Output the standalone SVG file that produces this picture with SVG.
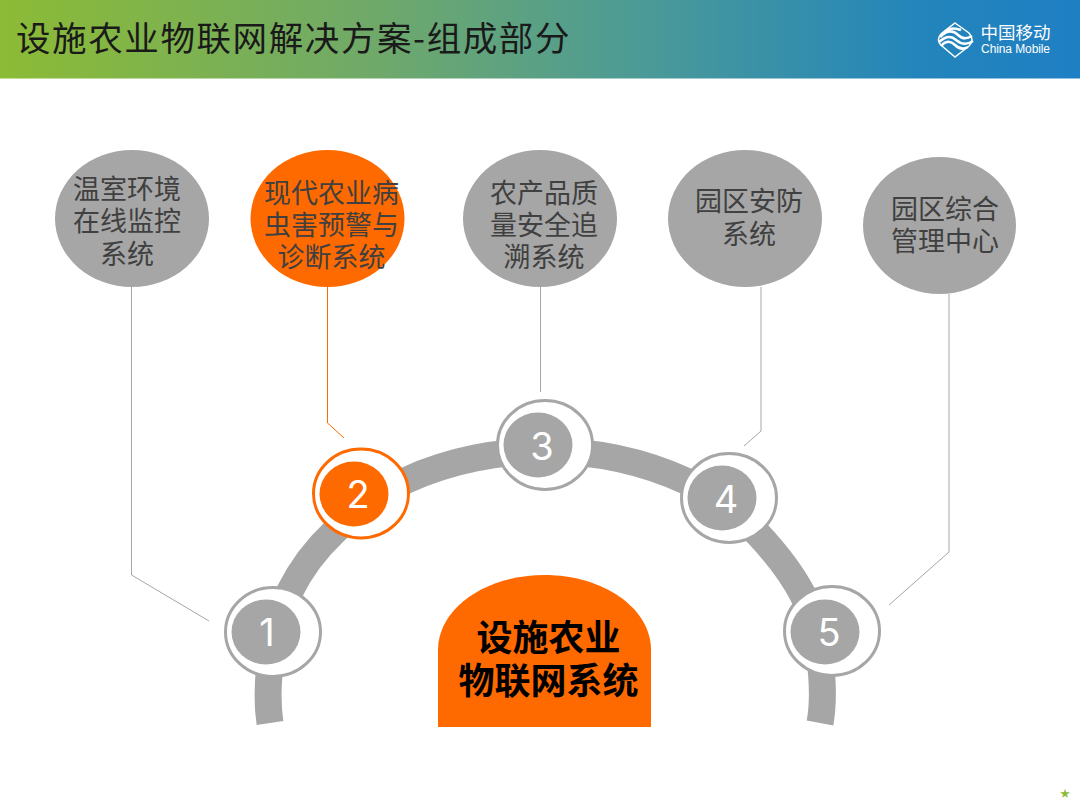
<svg xmlns="http://www.w3.org/2000/svg" width="1080" height="810" viewBox="0 0 1080 810">
<style>
text{font-family:"Noto Sans CJK SC","Noto Sans",sans-serif;text-anchor:middle}
.t{font-size:27px;fill:#404040}
.b{fill:#a6a6a6}
.o{fill:#ff6a00}
.ring{fill:#fff;stroke:#a6a6a6;stroke-width:3}
.ringo{fill:#fff;stroke:#ff6a00;stroke-width:3}
.n{font-family:Inter,"Noto Sans",sans-serif;font-size:38px;fill:#fff}
.c{fill:none;stroke:#a6a6a6;stroke-width:1}
.logo{fill:none;stroke:#fff}
</style>
<defs>
<linearGradient id="hdr" x1="0" x2="1" y1="0" y2="0">
<stop offset="0" stop-color="#8cbb35"/><stop offset=".35" stop-color="#6fa96a"/><stop offset=".6" stop-color="#4b9a98"/><stop offset=".85" stop-color="#2385bb"/><stop offset="1" stop-color="#1f7fc4"/>
</linearGradient>
</defs>
<rect width="1080" height="810" fill="#fff"/>
<g id="header">
<rect width="1080" height="78.500" fill="url(#hdr)"/>
<text x="16" y="51" style="text-anchor:start;font-size:34.500px;letter-spacing:1.600px;fill:#1a1a1a">设施农业物联网解决方案-组成部分</text>
</g>
<g id="logo">
<path class="logo" stroke-width="1.500" d="M955 23L969 33Q975 40 969 46L955 57L942 46Q935 40 942 33Z"/>
<path class="logo" stroke-width="2.500" d="M940 37Q950 27 958 35Q964 41 972 36M939 42Q949 33 956 40Q964 47 973 41M941 46Q948 38 955 45Q961 51 968 47M945 32Q951 26 961 30"/>
<text x="1015.500" y="39" style="font-size:17.500px;fill:#fff">中国移动</text>
<text x="1015.500" y="53" style="font-size:12px;font-family:'Liberation Sans',sans-serif;fill:#fff;letter-spacing:-.100px">China Mobile</text>
</g>
<path id="arc" d="M270 723C265 690 270 630 290 591C302 567 318 547 334 532C355 510 380 492 407 480C450 460 500 451 545 451C590 451 640 460 686 481C710 492 735 510 758 534C772 549 790 570 803 595C820 630 826 690 820 723" fill="none" stroke="#a6a6a6" stroke-width="27"/>
<g id="connectors">
<path class="c" d="M131.500 287V575L209 621"/>
<path class="c" style="stroke:#ff6a00" d="M327.500 287V423L344 438"/>
<path class="c" d="M540.500 287V392"/>
<path class="c" d="M761 287V431L744 446"/>
<path class="c" d="M949 294V552L889 605"/>
</g>
<g id="bubble1"><ellipse class="b" cx="132" cy="218.500" rx="77" ry="68.500"/><text class="t"><tspan x="127" y="199">温室环境</tspan><tspan x="127" y="231">在线监控</tspan><tspan x="127" y="264">系统</tspan></text></g>
<g id="bubble2"><ellipse class="o" cx="327.500" cy="218.500" rx="77" ry="68.500"/><text class="t"><tspan x="331.500" y="203">现代农业病</tspan><tspan x="331.500" y="235">虫害预警与</tspan><tspan x="331.500" y="267">诊断系统</tspan></text></g>
<g id="bubble3"><ellipse class="b" cx="540" cy="218.500" rx="77" ry="68.500"/><text class="t"><tspan x="544" y="203">农产品质</tspan><tspan x="544" y="235">量安全追</tspan><tspan x="544" y="267">溯系统</tspan></text></g>
<g id="bubble4"><ellipse class="b" cx="745" cy="218.500" rx="77" ry="68.500"/><text class="t"><tspan x="749" y="211">园区安防</tspan><tspan x="749" y="244">系统</tspan></text></g>
<g id="bubble5"><ellipse class="b" cx="939.500" cy="225.500" rx="76.500" ry="68.500"/><text class="t"><tspan x="945" y="219">园区综合</tspan><tspan x="945" y="251">管理中心</tspan></text></g>
<g id="node1"><ellipse class="ring" cx="273" cy="632" rx="47.500" ry="44.500"/><ellipse class="b" cx="266" cy="632" rx="34.500" ry="32.500"/><text class="n" x="267" y="646">1</text></g>
<g id="node2"><ellipse class="ringo" cx="361" cy="493.500" rx="47.500" ry="44.500"/><ellipse class="o" cx="354" cy="494" rx="34.500" ry="32.500"/><text class="n" x="358" y="508">2</text></g>
<g id="node3"><ellipse class="ring" cx="545" cy="445" rx="47.500" ry="44.500"/><ellipse class="b" cx="538" cy="445" rx="34.500" ry="32.500"/><text class="n" x="542" y="460">3</text></g>
<g id="node4"><ellipse class="ring" cx="729" cy="498" rx="47.500" ry="44.500"/><ellipse class="b" cx="722" cy="498" rx="34.500" ry="32.500"/><text class="n" x="726" y="513">4</text></g>
<g id="node5"><ellipse class="ring" cx="832" cy="631" rx="47.500" ry="44.500"/><ellipse class="b" cx="825" cy="632" rx="34.500" ry="32.500"/><text class="n" x="829" y="646">5</text></g>
<g id="center">
<path class="o" d="M438 727V650C438 608 486 575 544.500 575S651 608 651 650V727Z"/>
<text style="font-size:36px;font-weight:700;fill:#000"><tspan x="548.500" y="651">设施农业</tspan><tspan x="548.500" y="694">物联网系统</tspan></text>
</g>
<text id="star" x="1065" y="797" style="font-size:10px;fill:#8cbb35">★</text>
</svg>
